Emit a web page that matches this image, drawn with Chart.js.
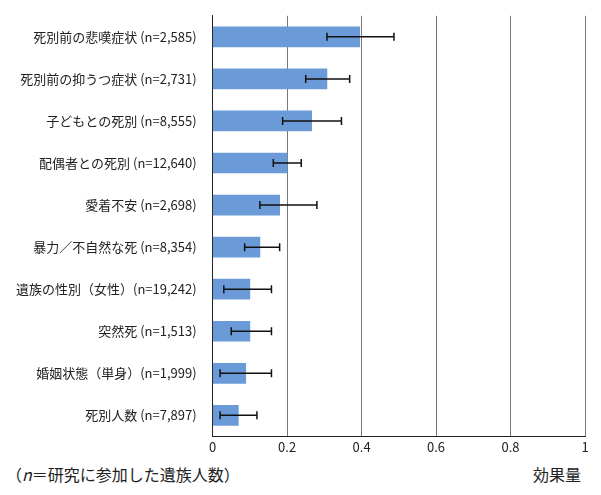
<!DOCTYPE html>
<html>
<head>
<meta charset="utf-8">
<script src="https://cdn.jsdelivr.net/npm/chart.js@4"></script>
<style>
  body { margin: 0; background: #fff; font-family: "Noto Sans CJK JP", sans-serif; }
  #wrap { position: relative; width: 601px; height: 495px; }
  .note { position: absolute; font-size: 16px; color: #222; top: 462px; }
</style>
</head>
<body>
<div id="wrap">
  <canvas id="myChart" width="601" height="458"></canvas>
  <div class="note" style="left:6px">（<i>n</i>＝研究に参加した遺族人数）</div>
  <div class="note" style="left:533px">効果量</div>
</div>
<script>
const labels = [
  "死別前の悲嘆症状 (n=2,585)",
  "死別前の抑うつ症状 (n=2,731)",
  "子どもとの死別 (n=8,555)",
  "配偶者との死別 (n=12,640)",
  "愛着不安 (n=2,698)",
  "暴力／不自然な死 (n=8,354)",
  "遺族の性別（女性）(n=19,242)",
  "突然死 (n=1,513)",
  "婚姻状態（単身）(n=1,999)",
  "死別人数 (n=7,897)"
];
const effect = [0.395, 0.307, 0.266, 0.2, 0.18, 0.127, 0.1, 0.1, 0.089, 0.069];
const errLow = [0.307, 0.25, 0.188, 0.163, 0.127, 0.086, 0.03, 0.05, 0.02, 0.02];
const errHigh = [0.487, 0.368, 0.346, 0.238, 0.28, 0.18, 0.158, 0.158, 0.158, 0.119];

const errorBars = {
  id: "errorBars",
  afterDatasetsDraw(chart) {
    const ctx = chart.ctx;
    const x = chart.scales.x;
    const meta = chart.getDatasetMeta(0);
    ctx.save();
    ctx.strokeStyle = "#111";
    ctx.lineWidth = 1.5;
    meta.data.forEach(function (bar, i) {
      const y = bar.y;
      const x1 = x.getPixelForValue(errLow[i]);
      const x2 = x.getPixelForValue(errHigh[i]);
      ctx.beginPath();
      ctx.moveTo(x1, y); ctx.lineTo(x2, y);
      ctx.moveTo(x1, y - 4); ctx.lineTo(x1, y + 4);
      ctx.moveTo(x2, y - 4); ctx.lineTo(x2, y + 4);
      ctx.stroke();
    });
    ctx.restore();
  }
};

const config = {
  type: "bar",
  data: {
    labels: labels,
    datasets: [{
      data: effect,
      backgroundColor: "#6a9bd8",
      barThickness: 20
    }]
  },
  plugins: [errorBars],
  options: {
    indexAxis: "y",
    responsive: false,
    animation: false,
    layout: { padding: { top: 0, right: 16, left: 8 } },
    scales: {
      x: {
        min: 0, max: 1,
        ticks: {
          stepSize: 0.2, color: "#222",
          font: { size: 13, family: "Noto Sans CJK JP" },
          callback: (v) => String(Math.round(v * 10) / 10)
        },
        grid: { color: "#777", drawTicks: false },
        border: { color: "#222" }
      },
      y: {
        ticks: { color: "#222", padding: 8, font: { size: 13, family: "Noto Sans CJK JP" } },
        grid: { display: false },
        border: { color: "#222" }
      }
    },
    plugins: { legend: { display: false }, tooltip: { enabled: false } }
  }
};

new Chart(document.getElementById("myChart"), config);
</script>
</body>
</html>
